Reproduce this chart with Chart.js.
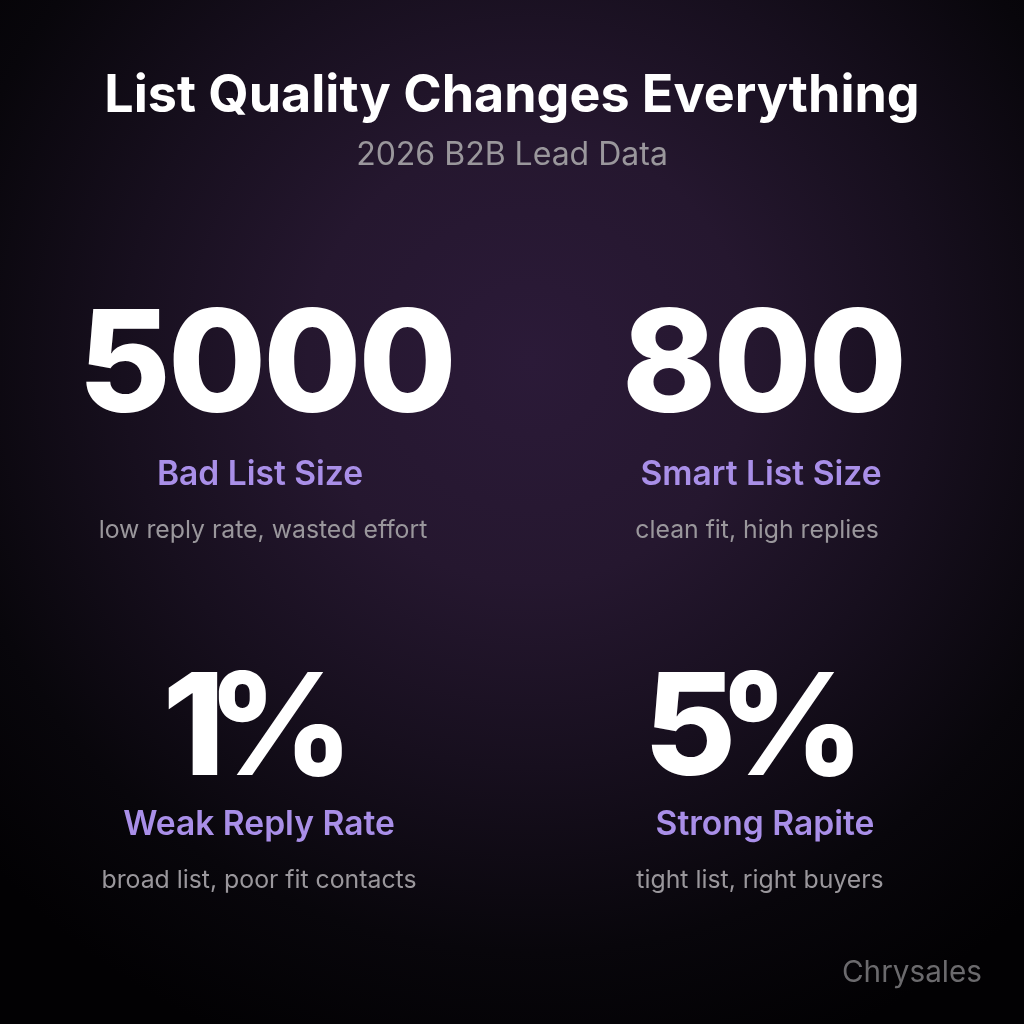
<!DOCTYPE html>
<html><head><meta charset="utf-8">
<style>html,body{margin:0;padding:0;background:#08060a}canvas{display:block}</style>
<script src="https://cdn.jsdelivr.net/npm/chart.js@4/dist/chart.umd.min.js"></script>
</head><body><canvas id="c" width="1024" height="1024"></canvas>
<script>
const titleText = "List Quality Changes Everything";
const subtitleText = "2026 B2B Lead Data";
const watermark = "Chrysales";
const columns = ["Bad", "Smart"];
const rows = ["Size", "Rate"];
const statValues = ["5000", "800", "1%", "5%"];
const statLabels = ["Bad List Size", "Smart List Size", "Weak Reply Rate", "Strong Rapite"];
const statNotes = ["low reply rate, wasted effort", "clean fit, high replies", "broad list, poor fit contacts", "tight list, right buyers"];
const cellColumn = ["Bad", "Smart", "Bad", "Smart"];
const cellRow = ["Size", "Size", "Rate", "Rate"];

// layout nudges relative to each cell centre: [value, label, note]
const nudgeX = [[10,4,7],[-5,-7,-11],[-7,3,3],[-23,-3,-8]];
const nudgeY = [[58,131,184],[58,131,184],[62,122,175],[62,122,175]];
const valueSpacing = [-3,-3,-18,-18];

const bgPlugin = {
  id:"bg",
  beforeDraw(ch){
    const c = ch.ctx, w = ch.width, h = ch.height;
    const g = c.createRadialGradient(530,360,0,530,360,740);
    g.addColorStop(0,"#2b1a38");
    g.addColorStop(0.3,"#25172f");
    g.addColorStop(0.55,"#170f1e");
    g.addColorStop(0.8,"#08060b");
    g.addColorStop(1,"#020103");
    c.save(); c.fillStyle = g; c.fillRect(0,0,w,h); c.restore();
  }
};
const textPlugin = {
  id:"cellText",
  afterDatasetsDraw(ch){
    const c = ch.ctx, pts = ch.getDatasetMeta(0).data;
    c.save(); c.textAlign="center"; c.textBaseline="alphabetic";
    pts.forEach((p,i)=>{
      c.letterSpacing = valueSpacing[i]+"px";
      c.fillStyle="#ffffff"; c.font='800 142px Inter';
      c.fillText(statValues[i], p.x+nudgeX[i][0], p.y+nudgeY[i][0]);
      c.letterSpacing = "0px";
      c.fillStyle="#a98fe8"; c.font='600 33.6px Inter';
      c.fillText(statLabels[i], p.x+nudgeX[i][1], p.y+nudgeY[i][1]);
      c.fillStyle="#9a979c"; c.font='400 24.8px Inter';
      c.fillText(statNotes[i], p.x+nudgeX[i][2], p.y+nudgeY[i][2]);
    });
    c.textAlign="right"; c.fillStyle="#6b6a6d"; c.font='400 29.7px Inter';
    c.fillText(watermark, 982, 982);
    c.restore();
  }
};
new Chart(document.getElementById("c"),{
  type:"scatter",
  data:{datasets:[{
    data: cellColumn.map((x,i)=>({x, y:cellRow[i]})),
    pointRadius:0, pointHoverRadius:0
  }]},
  options:{
    responsive:false, animation:false, devicePixelRatio:1,
    layout:{padding:{top:65,bottom:131,left:0,right:0}},
    plugins:{
      legend:{display:false}, tooltip:{enabled:false},
      title:{display:true,text:titleText,color:"#ffffff",font:{family:"Inter",size:52,weight:"700"},padding:{top:0,bottom:9}},
      subtitle:{display:true,text:subtitleText,color:"#9a979c",font:{family:"Inter",size:32,weight:"400"},padding:{top:0,bottom:0}}
    },
    scales:{
      x:{type:"category",labels:columns,offset:true,display:false},
      y:{type:"category",labels:rows,offset:true,display:false,afterFit(s){}}
    }
  },
  plugins:[bgPlugin,textPlugin]
});
</script></body></html>
